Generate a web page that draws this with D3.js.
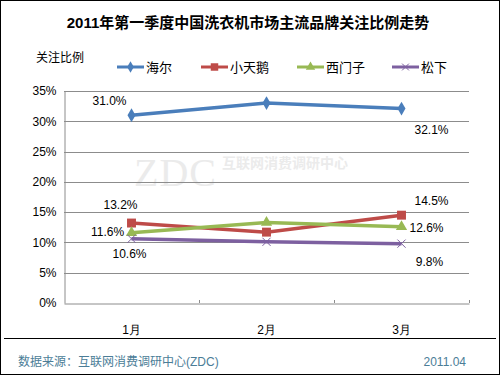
<!DOCTYPE html>
<html>
<head>
<meta charset="utf-8">
<script src="https://cdn.jsdelivr.net/npm/d3@7"></script>
<style>
  body { margin: 0; background: #fff; }
  svg { display: block; font-family: Arial, "Liberation Sans", "Noto Sans CJK SC", sans-serif; }
</style>
</head>
<body>
<svg class="chart"></svg>
<script>
// chart data
const months = ["1月", "2月", "3月"];
const brands = ["海尔", "小天鹅", "西门子", "松下"];
const haier = [31.0, 33.0, 32.1];
const littleSwan = [13.2, 11.7, 14.5];
const siemens = [11.6, 13.3, 12.6];
const panasonic = [10.6, 10.1, 9.8];
const yTicks = [0, 5, 10, 15, 20, 25, 30, 35];

const width = 500, height = 375;
const svg = d3.select(".chart").attr("width", width).attr("height", height);

// outer frame
svg.append("rect").attr("x", 0.5).attr("y", 0.5).attr("width", width - 1).attr("height", height - 1)
    .attr("fill", "#fff").attr("stroke", "#000");

// title
svg.append("text").attr("x", 248).attr("y", 28).attr("text-anchor", "middle")
    .attr("font-size", 15).attr("font-weight", "bold").attr("fill", "#000")
    .text("2011年第一季度中国洗衣机市场主流品牌关注比例走势");

svg.append("text").attr("x", 36).attr("y", 62).attr("font-size", 12).text("关注比例");

// scales
const x = d3.scaleBand().domain(months).range([64, 469]);
const y = d3.scaleLinear().domain([0, 35]).range([303, 91]);

// watermark
const wm = svg.append("g").attr("fill", "#ebebeb");
wm.append("text").attr("x", 134).attr("y", 186).attr("font-size", 40)
    .attr("font-family", "'Liberation Serif', serif").attr("textLength", 82).text("ZDC");
wm.append("text").attr("x", 222).attr("y", 168).attr("font-size", 14).attr("font-weight", "bold")
    .text("互联网消费调研中心");

// gridlines
svg.append("g").selectAll("line").data(yTicks.filter(d => d > 0)).join("line")
    .attr("x1", 64).attr("x2", 469)
    .attr("y1", d => Math.round(y(d)) + 0.5).attr("y2", d => Math.round(y(d)) + 0.5)
    .attr("stroke", "#8c8c8c");

// y axis
const yAxis = svg.append("g").attr("transform", "translate(64.5,0)")
    .call(d3.axisLeft(y).tickValues(yTicks).tickFormat(d => d + "%").tickSize(0).tickPadding(8));
yAxis.select(".domain").attr("stroke", "#8c8c8c");
yAxis.selectAll("text").attr("font-size", 12).attr("fill", "#000").attr("font-family", null);

// x axis
const xAxis = svg.append("g").attr("transform", "translate(0,303.5)")
    .call(d3.axisBottom(x).tickSize(0).tickPadding(22));
xAxis.select(".domain").attr("stroke", "#8c8c8c");
xAxis.selectAll("text").attr("font-size", 12).attr("fill", "#000").attr("font-family", null);
svg.append("g").selectAll("line").data(months).join("line")
    .attr("x1", d => Math.round(x(d) + x.bandwidth()) + 0.5)
    .attr("x2", d => Math.round(x(d) + x.bandwidth()) + 0.5)
    .attr("y1", 300).attr("y2", 303).attr("stroke", "#8c8c8c");

// series
const series = [
  { name: brands[0], values: haier, color: "#4a7ebb", symbol: d3.symbolDiamond, size: 55,
    labels: [[-22, -10], [30, 25]] },
  { name: brands[1], values: littleSwan, color: "#be4b48", symbol: d3.symbolSquare, size: 80,
    labels: [[-11, -14], [30, -10]] },
  { name: brands[2], values: siemens, color: "#98b954", symbol: d3.symbolTriangle, size: 55,
    labels: [[-24, 3], [25, 5]] },
  { name: brands[3], values: panasonic, color: "#7d60a0", symbol: d3.symbolX, size: 45,
    labels: [[-2, 19], [28, 22]] }
];

const line = d3.line().x((d, i) => x(months[i]) + x.bandwidth() / 2).y(d => y(d));

series.forEach(s => {
  const g = svg.append("g");
  g.append("path").datum(s.values).attr("d", line)
      .attr("fill", "none").attr("stroke", s.color).attr("stroke-width", 3.5);
  g.selectAll("path.mk").data(s.values).join("path").attr("class", "mk")
      .attr("transform", (d, i) => `translate(${x(months[i]) + x.bandwidth() / 2},${y(d)})`)
      .attr("d", d3.symbol(s.symbol, s.size))
      .attr("fill", s.symbol === d3.symbolX ? "none" : s.color)
      .attr("stroke", s.symbol === d3.symbolX ? s.color : "none")
      .attr("stroke-width", 1);
  // labels on first and last month
  [0, 2].forEach((i, k) => {
    g.append("text")
        .attr("x", x(months[i]) + x.bandwidth() / 2 + s.labels[k][0])
        .attr("y", y(s.values[i]) + s.labels[k][1])
        .attr("text-anchor", "middle").attr("font-size", 12).attr("fill", "#000")
        .text(s.values[i].toFixed(1) + "%");
  });
});

// legend
const legendX = [117, 201, 297, 392];
const legend = svg.append("g").selectAll("g").data(series).join("g")
    .attr("transform", (d, i) => `translate(${legendX[i]},67)`);
legend.append("line").attr("x1", 0).attr("x2", 27).attr("stroke", d => d.color).attr("stroke-width", 3);
legend.append("path").attr("transform", "translate(13.5,0)")
    .attr("d", d => d3.symbol(d.symbol, d.size * 0.7)())
    .attr("fill", d => d.symbol === d3.symbolX ? "none" : d.color)
    .attr("stroke", d => d.symbol === d3.symbolX ? d.color : "none");
legend.append("text").attr("x", 29).attr("y", 5).attr("font-size", 13).text(d => d.name);

// footer
svg.append("line").attr("x1", 4).attr("x2", 496).attr("y1", 338.5).attr("y2", 338.5)
    .attr("stroke", "#000");
svg.append("text").attr("x", 18).attr("y", 366).attr("font-size", 12).attr("fill", "#4b7d97")
    .text("数据来源：互联网消费调研中心(ZDC)");
svg.append("text").attr("x", 466).attr("y", 366).attr("text-anchor", "end").attr("font-size", 12)
    .attr("fill", "#4b7d97").text("2011.04");
</script>
</body>
</html>
